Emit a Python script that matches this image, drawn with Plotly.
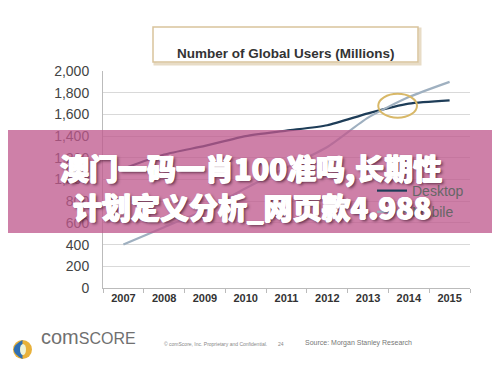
import plotly.graph_objects as go

years = [2007, 2008, 2009, 2010, 2011, 2012, 2013, 2014, 2015]
desktop = [1100, 1230, 1310, 1400, 1450, 1500, 1610, 1700, 1730]
mobile = [400, 560, 720, 920, 1110, 1300, 1570, 1760, 1900]
yticks = [0, 200, 400, 600, 800, 1000, 1200, 1400, 1600, 1800, 2000]
ytick_text = ["0", "200", "400", "600", "800", "1,000", "1,200", "1,400", "1,600", "1,800", "2,000"]

OFF = 8  # page body margin
W, H = 500 - OFF, 365 - OFF
# plot area in window pixels
PX0, PX1, PY0, PY1 = 103, 470, 71, 288
L, R, T, B = PX0 - OFF, 500 - PX1, PY0 - OFF, 365 - PY1
PW, PH = PX1 - PX0, PY1 - PY0


def px(x):
    return (x - PX0) / PW


def py(y):
    return (PY1 - y) / PH


fig = go.Figure()
fig.add_trace(go.Scatter(x=years, y=desktop, mode="lines", name="Desktop",
                         line=dict(color="#1e3d58", width=2.2, shape="spline", smoothing=0.6)))
fig.add_trace(go.Scatter(x=years, y=mobile, mode="lines", name="Mobile",
                         line=dict(color="#9fb0c0", width=2.2, shape="spline", smoothing=0.6)))

fig.update_layout(
    width=W, height=H,
    margin=dict(l=L, r=R, t=T, b=B),
    paper_bgcolor="white", plot_bgcolor="white",
    font=dict(family="Liberation Sans, Arial, sans-serif", color="#444"),
    showlegend=True,
    legend=dict(x=px(372), y=py(175), xanchor="left", yanchor="top",
                bgcolor="rgba(0,0,0,0)", font=dict(size=14, color="#666"),
                tracegroupgap=0, itemwidth=30),
    xaxis=dict(range=[2006.5, 2015.5], tickvals=years, ticktext=[str(y) for y in years],
               showgrid=False, zeroline=False, showline=True, linecolor="#bbbbbb",
               ticks="", tickfont=dict(size=11, color="#333", family="Liberation Sans, Arial", weight="bold"),
               minor=dict(tickvals=[y - 0.5 for y in years] + [2015.5], ticks="outside",
                          ticklen=4, tickcolor="#bbbbbb", showgrid=False)),
    yaxis=dict(range=[0, 2000], tickvals=yticks, ticktext=ytick_text,
               showgrid=True, gridcolor="#d9d9d9", gridwidth=1, zeroline=False,
               showline=True, linecolor="#bbbbbb", ticks="",
               tickfont=dict(size=14, color="#444"), ticklabelstandoff=10),
)

# title box
fig.add_shape(type="rect", xref="paper", yref="paper",
              x0=px(155), x1=px(420), y0=py(64), y1=py(29),
              line=dict(color="#e8dcc6", width=3), fillcolor="rgba(0,0,0,0)", layer="below")
fig.add_shape(type="rect", xref="paper", yref="paper",
              x0=px(153), x1=px(418), y0=py(62), y1=py(27),
              line=dict(color="#d9c39c", width=1.5), fillcolor="white", layer="below")
fig.add_annotation(xref="paper", yref="paper", x=px(285.5), y=py(44.5),
                   text="<b>Number of Global Users (Millions)</b>", showarrow=False,
                   font=dict(size=13.5, color="#333", family="Liberation Sans, Arial"))

# highlight ellipse
fig.add_shape(type="circle", xref="x", yref="y", x0=2013.25, x1=2014.2, y0=1570, y1=1790,
              line=dict(color="#d8b868", width=2), layer="above")

# pink watermark band
fig.add_shape(type="rect", xref="paper", yref="paper",
              x0=px(0), x1=px(500), y0=py(233), y1=py(130),
              line=dict(width=0), fillcolor="rgba(190,88,140,0.76)", layer="above")

band_font = dict(size=29, color="white", family="Noto Sans CJK SC", weight=900,
                 shadow="0.7px 0 0 white, -0.7px 0 0 white, 0 0.7px 0 white, 2px 2px 3px rgba(60,20,40,0.75)")
fig.add_annotation(xref="paper", yref="paper", x=px(251), y=py(167),
                   text="澳门一码一肖100准吗,长期性", showarrow=False, font=band_font)
fig.add_annotation(xref="paper", yref="paper", x=px(252), y=py(206),
                   text="计划定义分析_网页款4.988", showarrow=False, font=band_font)

# footer: logo
fig.add_shape(type="circle", xref="paper", yref="paper",
              x0=px(13), x1=px(32), y0=py(359), y1=py(340),
              line=dict(width=0), fillcolor="#e8b13a")
fig.add_shape(type="path", xref="paper", yref="paper",
              path="M {a},{b} Q {c},{d} {a},{e} L {a},{b} Z".format(
                  a=px(22.5), b=py(340), c=px(5), d=py(349.5), e=py(359)),
              line=dict(width=0), fillcolor="#2f6fb3")
fig.add_shape(type="circle", xref="paper", yref="paper",
              x0=px(20), x1=px(26), y0=py(355), y1=py(344),
              line=dict(width=0), fillcolor="#eef3d8")
fig.add_annotation(xref="paper", yref="paper", x=px(39), y=py(350),
                   xanchor="left", text="com<span style='font-size:16px'>SCORE</span>", showarrow=False,
                   font=dict(size=20, color="#707070", family="Liberation Sans, Arial"))
fig.add_annotation(xref="paper", yref="paper", x=px(162), y=py(349),
                   xanchor="left", text="© comScore, Inc. Proprietary and Confidential.", showarrow=False,
                   font=dict(size=5, color="#888"))
fig.add_annotation(xref="paper", yref="paper", x=px(281), y=py(349),
                   xanchor="center", text="24", showarrow=False, font=dict(size=5, color="#888"))
fig.add_annotation(xref="paper", yref="paper", x=px(303), y=py(349),
                   xanchor="left", text="Source: Morgan Stanley Research", showarrow=False,
                   font=dict(size=7, color="#777"))

fig.write_html("out.html")
